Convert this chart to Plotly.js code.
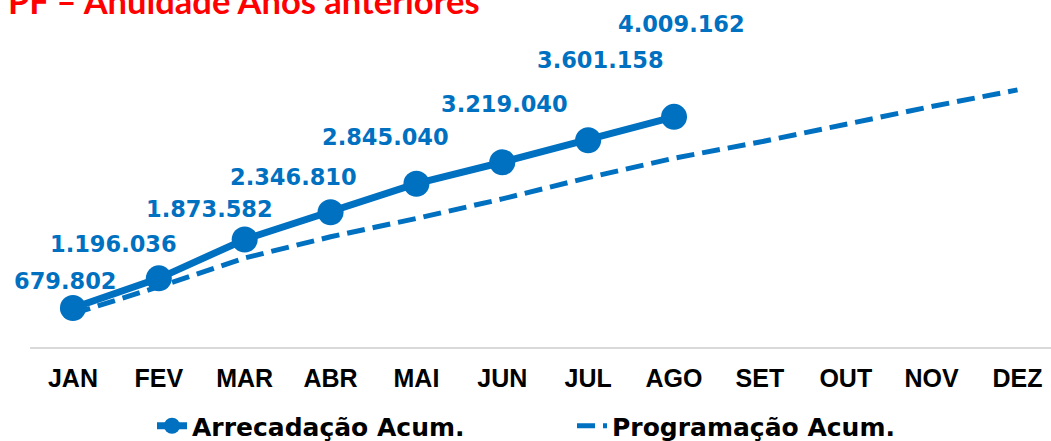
<!DOCTYPE html>
<html>
<head>
<meta charset="utf-8">
<script src="https://cdn.plot.ly/plotly-3.0.1.min.js"></script>
<style>
  html, body { margin: 0; padding: 0; background: #ffffff; }
  #chart { width: 1051px; height: 441px; }
</style>
</head>
<body>
<div id="chart"></div>
<script>
// ---- data ----
const months = ["JAN", "FEV", "MAR", "ABR", "MAI", "JUN", "JUL", "AGO", "SET", "OUT", "NOV", "DEZ"];
const arrecadacaoMonths = ["JAN", "FEV", "MAR", "ABR", "MAI", "JUN", "JUL", "AGO"];
const arrecadacaoAcum = [679802, 1196036, 1873582, 2346810, 2845040, 3219040, 3601158, 4009162];
const programacaoAcum = [580000, 1050000, 1550000, 1920000, 2240000, 2580000, 2950000, 3290000, 3570000, 3890000, 4190000, 4480000];
const dataLabels = ["679.802", "1.196.036", "1.873.582", "2.346.810", "2.845.040", "3.219.040", "3.601.158", "4.009.162"];
const chartTitle = "PF – Anuidade Anos anteriores";
const seriesNames = ["Arrecadação Acum.", "Programação Acum."];

// label offsets (pixels) from each marker
const labelShiftX = [-8, -45, -35, -37, -31, 2, 12, 7];
const labelShiftY = [27, 34, 30, 35, 47, 58, 80, 93];

const blue = "#0070C0";

const traces = [
  {
    x: arrecadacaoMonths,
    y: arrecadacaoAcum,
    name: seriesNames[0],
    type: "scatter",
    mode: "lines+markers",
    line: { color: blue, width: 7 },
    marker: { color: blue, size: 26 },
    hoverinfo: "skip"
  },
  {
    x: months,
    y: programacaoAcum,
    name: seriesNames[1],
    type: "scatter",
    mode: "lines",
    line: { color: blue, width: 5, dash: "18px,8px" },
    hoverinfo: "skip"
  }
];

const annotations = arrecadacaoMonths.map((m, i) => ({
  x: m,
  y: arrecadacaoAcum[i],
  xref: "x",
  yref: "y",
  text: dataLabels[i],
  showarrow: false,
  xanchor: "center",
  yanchor: "middle",
  xshift: labelShiftX[i],
  yshift: labelShiftY[i],
  font: { family: "DejaVu Sans", size: 22.5, color: blue, weight: "bold" }
}));

const layout = {
  width: 1051,
  height: 441,
  paper_bgcolor: "#ffffff",
  plot_bgcolor: "#ffffff",
  margin: { l: 30, r: 0, t: 60, b: 94 },
  title: {
    text: "<b>" + chartTitle + "</b>",
    xref: "container",
    yref: "container",
    x: 8 / 1051,
    xanchor: "left",
    y: 1 - 2 / 441,
    yanchor: "middle",
    font: { family: "Lato", size: 34.5, color: "#FF0000" }
  },
  xaxis: {
    type: "category",
    categoryarray: months,
    categoryorder: "array",
    range: [-0.5, 11.39],
    showgrid: false,
    zeroline: false,
    showline: true,
    linecolor: "#D9D9D9",
    linewidth: 1.5,
    ticks: "",
    ticklabelstandoff: 8,
    tickfont: { family: "Liberation Sans", size: 25, color: "#000000", weight: "bold" },
    fixedrange: true
  },
  yaxis: {
    range: [0, 5000000],
    showgrid: false,
    zeroline: false,
    showline: false,
    showticklabels: false,
    ticks: "",
    fixedrange: true
  },
  showlegend: true,
  legend: {
    orientation: "h",
    xref: "container",
    yref: "container",
    x: 152 / 1051,
    xanchor: "left",
    y: 1 - 426 / 441,
    yanchor: "middle",
    entrywidth: 375,
    entrywidthmode: "pixels",
    font: { family: "DejaVu Sans", size: 25, color: "#000000", weight: "bold" },
    bgcolor: "rgba(0,0,0,0)"
  },
  annotations: annotations
};

Plotly.newPlot("chart", traces, layout, { staticPlot: true, displayModeBar: false });
</script>
</body>
</html>
